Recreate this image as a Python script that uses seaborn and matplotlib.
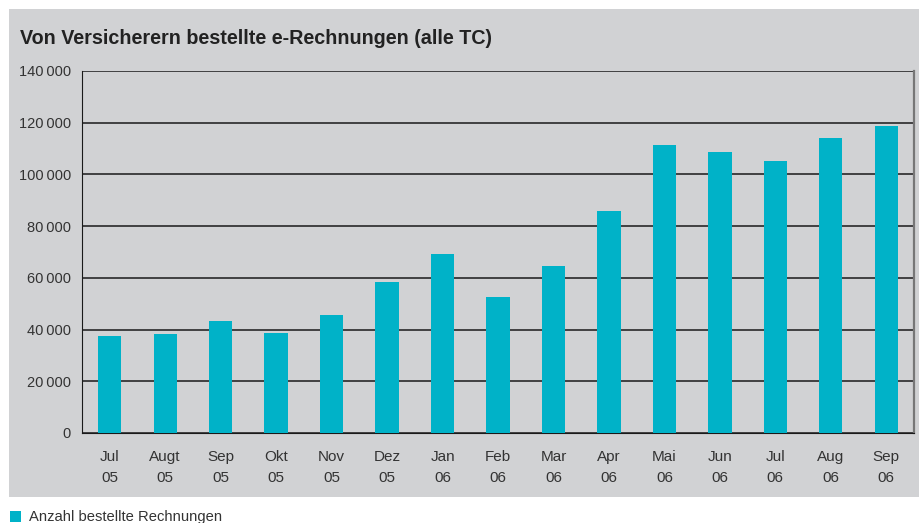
import numpy as np
import pandas as pd
import seaborn as sns
import matplotlib
matplotlib.use("Agg")
import matplotlib.pyplot as plt
from matplotlib.patches import Rectangle, Patch
from matplotlib.ticker import FuncFormatter, FixedLocator

# data
months = ["Jul\n05", "Augt\n05", "Sep\n05", "Okt\n05", "Nov\n05", "Dez\n05",
          "Jan\n06", "Feb\n06", "Mar\n06", "Apr\n06", "Mai\n06", "Jun\n06",
          "Jul\n06", "Aug\n06", "Sep\n06"]
orders = [37500, 38300, 43300, 38700, 45600, 58400, 69200, 52600,
          64600, 85800, 111400, 108700, 105200, 114100, 118700]
yticks = [0, 20000, 40000, 60000, 80000, 100000, 120000, 140000]

title = "Von Versicherern bestellte e-Rechnungen (alle TC)"
legend_label = "Anzahl bestellte Rechnungen"

panel_grey = "#d1d2d4"
bar_color = "#00b2c8"
text_color = "#333333"

sns.set_style("white")
plt.rcParams["font.family"] = ["Liberation Sans", "DejaVu Sans"]

df = pd.DataFrame({"month": months, "orders": orders})

fig = plt.figure(figsize=(9.2, 5.23), dpi=100)
fig.patch.set_facecolor("white")

# grey panel behind the chart
fig.patches.append(Rectangle((9 / 920, 26 / 523), 1, 488 / 523,
                             transform=fig.transFigure, facecolor=panel_grey,
                             edgecolor="none", zorder=-10))

ax = fig.add_axes([82 / 920, 90 / 523, 832 / 920, 362 / 523])
ax.set_facecolor(panel_grey)

sns.barplot(data=df, x="month", y="orders", color=bar_color, width=0.42,
            saturation=1, linewidth=0, edgecolor="none", ax=ax, zorder=3)

ax.set_xlim(-0.5, len(months) - 0.5)
ax.set_ylim(0, 140000)
ax.set_xlabel("")
ax.set_ylabel("")

# y axis
ax.yaxis.set_major_locator(FixedLocator(yticks))
ax.yaxis.set_major_formatter(FuncFormatter(lambda v, p: f"{int(v):,}".replace(",", "\u2009")))
ax.yaxis.grid(True, color="#1a1a1a", linewidth=1.1, zorder=1)
ax.set_axisbelow(True)
ax.tick_params(axis="y", length=5, width=1, color="#1a1a1a", pad=3,
               labelsize=10.5, labelcolor=text_color)

# x axis: ticks at the category borders, labels at centres
ax.xaxis.set_major_locator(FixedLocator(np.arange(-0.5, len(months))))
ax.xaxis.set_minor_locator(FixedLocator(np.arange(len(months))))
ax.set_xticklabels([""] * (len(months) + 1))
ax.set_xticklabels(months, minor=True)
ax.tick_params(axis="x", which="major", length=5, width=1, color="#1a1a1a")
ax.tick_params(axis="x", which="minor", length=0, pad=12, labelsize=11,
               labelcolor=text_color)
for lab in ax.get_xticklabels(minor=True):
    lab.set_linespacing(1.65)

ax.spines["top"].set_visible(False)
ax.spines["left"].set_color("#1a1a1a")
ax.spines["bottom"].set_color("#1a1a1a")
ax.spines["right"].set_color("#777777")
ax.spines["right"].set_linewidth(1.6)

fig.text(20 / 920, 1 - 38 / 523, title, fontsize=14.2, fontweight="bold",
         color="#222222", va="center", ha="left")

fig.legend(handles=[Patch(facecolor=bar_color, edgecolor="none", label=legend_label)],
           loc="lower left", bbox_to_anchor=(-0.004, -0.028), frameon=False,
           handlelength=0.75, handleheight=0.75, handletextpad=0.6,
           fontsize=10.6, labelcolor=text_color)

fig.savefig("out.png", dpi=100)
